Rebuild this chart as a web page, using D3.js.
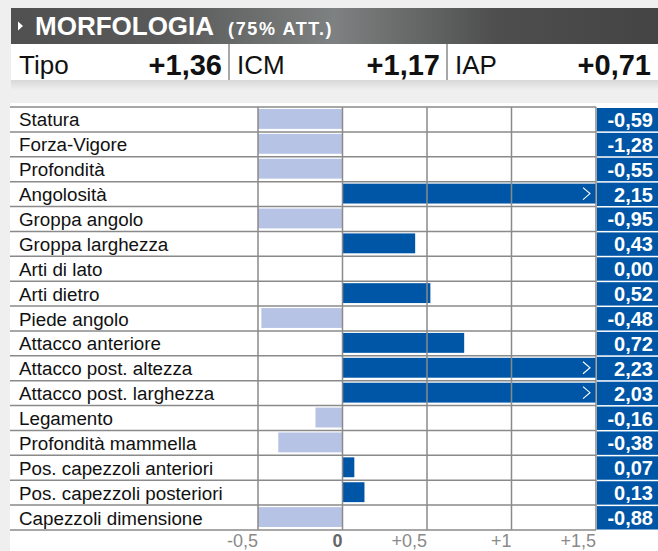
<!DOCTYPE html>
<html>
<head>
<meta charset="utf-8">
<script src="https://cdn.jsdelivr.net/npm/d3@7"></script>
<style>
  html, body { margin: 0; padding: 0; background: #efefef; }
  svg { display: block; font-family: "Liberation Sans", Arial, sans-serif; }
</style>
</head>
<body>
<div id="my_dataviz"></div>
<script>
// header data
var title = "MORFOLOGIA";
var subtitle = "(75% ATT.)";
var indexNames = ["Tipo", "ICM", "IAP"];
var indexValues = ["+1,36", "+1,17", "+0,71"];

// rows
var traits = ["Statura", "Forza-Vigore", "Profondità", "Angolosità", "Groppa angolo",
  "Groppa larghezza", "Arti di lato", "Arti dietro", "Piede angolo", "Attacco anteriore",
  "Attacco post. altezza", "Attacco post. larghezza", "Legamento", "Profondità mammella",
  "Pos. capezzoli anteriori", "Pos. capezzoli posteriori", "Capezzoli dimensione"];
var values = [-0.59, -1.28, -0.55, 2.15, -0.95, 0.43, 0.00, 0.52, -0.48, 0.72,
  2.23, 2.03, -0.16, -0.38, 0.07, 0.13, -0.88];

// axis
var tickValues = [-0.5, 0, 0.5, 1, 1.5];
var tickLabels = ["-0,5", "0", "+0,5", "+1", "+1,5"];

var W = 658, H = 551;

var svg = d3.select("#my_dataviz")
  .append("svg")
    .attr("width", W)
    .attr("height", H);

var defs = svg.append("defs");
var grad = defs.append("linearGradient").attr("id", "hdr")
  .attr("x1", "0%").attr("x2", "100%").attr("y1", "0%").attr("y2", "0%");
[["0%", "#505050"], ["25%", "#5a5a5a"], ["50%", "#7e8181"], ["75%", "#4e4e4e"], ["100%", "#444444"]]
  .forEach(function(s) { grad.append("stop").attr("offset", s[0]).attr("stop-color", s[1]); });
var shadow = defs.append("linearGradient").attr("id", "shd")
  .attr("x1", "0%").attr("x2", "0%").attr("y1", "0%").attr("y2", "100%");
shadow.append("stop").attr("offset", "0%").attr("stop-color", "#d8d8d8");
shadow.append("stop").attr("offset", "100%").attr("stop-color", "#efefef");

// ---- header bar
svg.append("rect").attr("x", 11).attr("y", 8).attr("width", W - 11).attr("height", 36)
  .attr("fill", "url(#hdr)");
svg.append("path").attr("d", "M18,21.5 L23,26 L18,30.5 Z").attr("fill", "#fff");
var ttl = svg.append("text").attr("x", 35).attr("y", 35).attr("fill", "#fff")
  .attr("font-weight", "bold");
ttl.append("tspan").attr("font-size", 26).text(title);
ttl.append("tspan").attr("font-size", 18).attr("dx", 14).attr("letter-spacing", 1.6).text(subtitle);

// index row
svg.append("rect").attr("x", 11).attr("y", 80).attr("width", W - 11).attr("height", 10)
  .attr("fill", "url(#shd)");
svg.append("rect").attr("x", 11).attr("y", 44).attr("width", W - 11).attr("height", 36)
  .attr("fill", "#fff");
var idxX = d3.scaleOrdinal().domain(indexNames).range([11, 229, 447]);
var idxW = [218, 218, 211];
indexNames.forEach(function(n, i) {
  var x0 = idxX(n);
  if (i > 0) {
    svg.append("line").attr("x1", x0).attr("x2", x0).attr("y1", 44).attr("y2", 80)
      .attr("stroke", "#8a8a8a").attr("stroke-width", 1.5);
  }
  svg.append("text").attr("x", x0 + 8).attr("y", 74).attr("font-size", 26)
    .attr("fill", "#111").text(n);
  svg.append("text").attr("x", x0 + idxW[i] - 7).attr("y", 75).attr("font-size", 29)
    .attr("font-weight", "bold").attr("text-anchor", "end").attr("fill", "#111")
    .text(indexValues[i]);
});

// ---- table panel
svg.append("rect").attr("x", 10).attr("y", 103).attr("width", W - 10).attr("height", H - 103)
  .attr("fill", "#fff");

var x = d3.scaleLinear().domain([-0.5, 1.5]).range([258, 596]);
var y = d3.scaleBand().domain(traits).range([107, 530]);

var g = svg.append("g");

// bars (clipped at the axis range)
g.selectAll(".bar")
  .data(values)
  .enter()
  .append("rect")
    .attr("class", "bar")
    .attr("x", function(d) { return x(Math.max(-0.5, Math.min(0, d))); })
    .attr("width", function(d) {
      var v = Math.max(-0.5, Math.min(1.5, d));
      return Math.abs(x(v) - x(0));
    })
    .attr("y", function(d, i) { return y(traits[i]) + 2; })
    .attr("height", y.bandwidth() - 5)
    .attr("fill", function(d) { return d < 0 ? "#b7c3e5" : "#0056a6"; });

// vertical gridlines
g.selectAll(".vgrid")
  .data(tickValues)
  .enter()
  .append("line")
    .attr("x1", function(d) { return x(d); })
    .attr("x2", function(d) { return x(d); })
    .attr("y1", 107).attr("y2", 530)
    .attr("stroke", "#8a8a8a").attr("stroke-width", 1.5);

// overflow chevrons
g.selectAll(".chev")
  .data(values.map(function(v, i) { return {v: v, t: traits[i]}; }).filter(function(d) { return d.v > 1.5; }))
  .enter()
  .append("path")
    .attr("d", function(d) {
      var cy = y(d.t) + y.bandwidth() / 2 - 0.5, cx = x(1.5) - 9;
      return "M" + (cx - 4) + "," + (cy - 6) + " L" + (cx + 3) + "," + cy + " L" + (cx - 4) + "," + (cy + 6);
    })
    .attr("fill", "none").attr("stroke", "#fff").attr("stroke-width", 1.1);

// horizontal row lines
var rowEdges = traits.map(function(t) { return y(t); }).concat([530]);
g.selectAll(".hgrid")
  .data(rowEdges)
  .enter()
  .append("line")
    .attr("x1", 10).attr("x2", x(1.5))
    .attr("y1", function(d) { return d; })
    .attr("y2", function(d) { return d; })
    .attr("stroke", "#8a8a8a").attr("stroke-width", 1.5);

// labels
g.selectAll(".lbl")
  .data(traits)
  .enter()
  .append("text")
    .attr("x", 19)
    .attr("y", function(d) { return y(d) + y.bandwidth() / 2 + 7; })
    .attr("font-size", 18.8)
    .attr("fill", "#111")
    .text(function(d) { return d; });

// value column
g.selectAll(".vcell")
  .data(traits)
  .enter()
  .append("rect")
    .attr("x", x(1.5) + 1)
    .attr("y", function(d) { return y(d) + 1; })
    .attr("width", W - x(1.5) - 1)
    .attr("height", y.bandwidth() - 1.5)
    .attr("fill", "#0056a6");

var fmt = function(v) { return v.toFixed(2).replace(".", ","); };
g.selectAll(".vtxt")
  .data(values)
  .enter()
  .append("text")
    .attr("x", 653)
    .attr("y", function(d, i) { return y(traits[i]) + y.bandwidth() / 2 + 7.5; })
    .attr("text-anchor", "end")
    .attr("font-size", 20)
    .attr("font-weight", "bold")
    .attr("fill", "#fff")
    .text(function(d) { return fmt(d); });

// axis tick labels
g.selectAll(".tick")
  .data(tickValues)
  .enter()
  .append("text")
    .attr("x", function(d) { return x(d); })
    .attr("y", 547)
    .attr("text-anchor", "end")
    .attr("font-size", 18)
    .attr("font-weight", function(d) { return d === 0 ? "bold" : "normal"; })
    .attr("fill", function(d) { return d === 0 ? "#666" : "#8a8a8a"; })
    .text(function(d, i) { return tickLabels[i]; });
</script>
</body>
</html>
